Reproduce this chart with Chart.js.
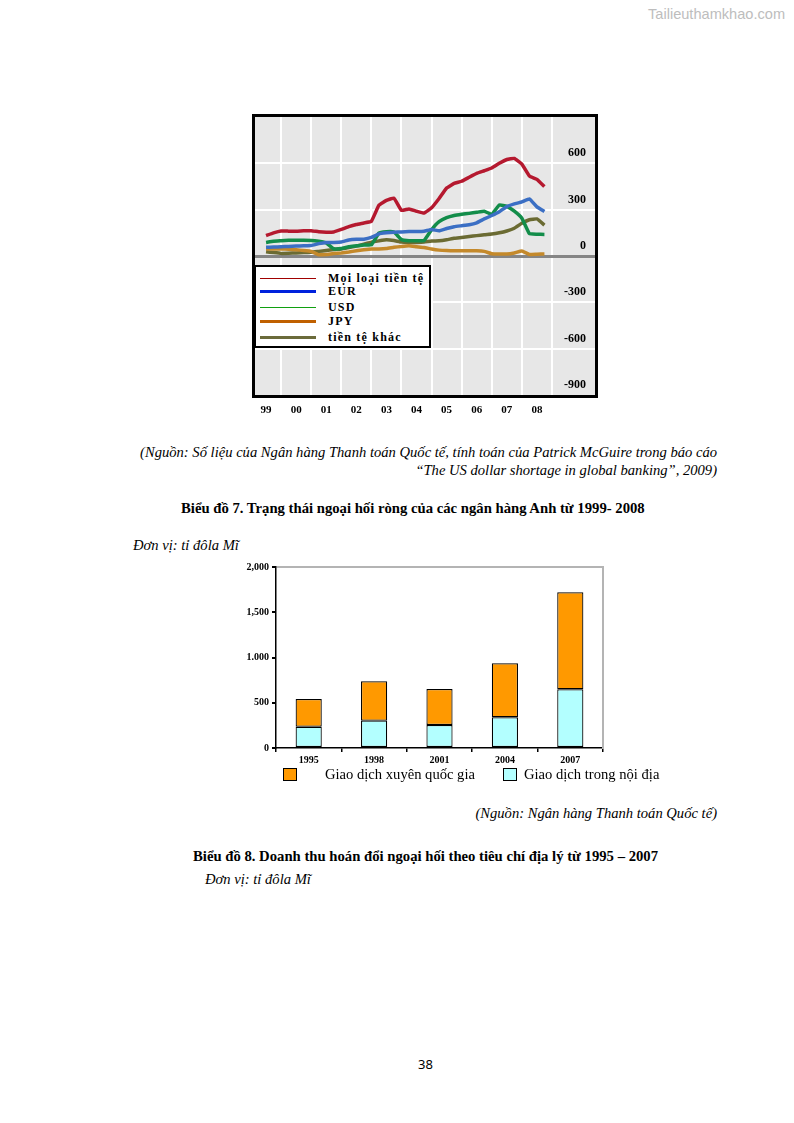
<!DOCTYPE html>
<html lang="vi">
<head>
<meta charset="utf-8">
<script src="https://cdn.jsdelivr.net/npm/chart.js@4.4.1/dist/chart.umd.min.js"></script>
<style>
  html, body { margin: 0; padding: 0; background: #fff; }
  #page { position: relative; width: 794px; height: 1123px; overflow: hidden;
          font-family: "Liberation Serif", "Times New Roman", serif; color: #000; }
  .abs { position: absolute; white-space: nowrap; }
  .it { font-style: italic; font-size: 14.6px; line-height: 18px; }
  .bold { font-weight: bold; font-size: 14.7px; line-height: 18px; }
  #wm { left: 648px; top: 6px; font: 14.6px "Liberation Sans", sans-serif; color: #bdbdbd; }
  #pageNo { left: 418px; top: 1055px; font: 13px "Noto Sans", sans-serif; }
  #fxLegend { left: 254px; top: 265px; width: 173px; height: 79px; background: #fff; border: 2px solid #000; }
  #fxLegend .row { position: absolute; left: 0; height: 14px; width: 173px; }
  #fxLegend .sample { position: absolute; left: 4px; width: 56px; top: 7px; }
  #fxLegend .txt { position: absolute; left: 72px; top: 0; font-weight: bold; font-size: 12px; line-height: 14px; letter-spacing: 1.2px; }
  .box { position: absolute; width: 12px; height: 11px; border: 1px solid #000; }
  .legTxt { position: absolute; font-size: 14.6px; line-height: 18px; }
</style>
</head>
<body>
<div id="page">
  <div class="abs" id="wm">Tailieuthamkhao.com</div>

  <canvas id="fxChart" class="abs" width="370" height="315" style="left:240px;top:110px;"></canvas>
  <div class="abs" id="fxLegend"></div>

  <div class="abs it" style="right:77px;top:443px;">(Nguồn: Số liệu của Ngân hàng Thanh toán Quốc tế, tính toán của Patrick McGuire trong báo cáo</div>
  <div class="abs it" style="right:77px;top:461px;">“The US dollar shortage in global banking”, 2009)</div>
  <div class="abs bold" style="left:181px;top:499px;">Biểu đồ 7. Trạng thái ngoại hối ròng của các ngân hàng Anh từ 1999- 2008</div>
  <div class="abs it" style="left:133px;top:536px;">Đơn vị: tỉ đôla Mĩ</div>

  <canvas id="turnoverChart" class="abs" width="390" height="215" style="left:226px;top:555px;"></canvas>
  <div class="box" style="left:283px;top:768px;background:#ff9900;"></div>
  <div class="legTxt" style="left:325px;top:765px;">Giao dịch xuyên quốc gia</div>
  <div class="box" style="left:503px;top:768px;background:#b3ffff;"></div>
  <div class="legTxt" style="left:524px;top:765px;">Giao dịch trong nội địa</div>

  <div class="abs it" style="right:77px;top:804px;">(Nguồn: Ngân hàng Thanh toán Quốc tế)</div>
  <div class="abs bold" style="left:193px;top:847px;">Biểu đồ 8. Doanh thu hoán đổi ngoại hối theo tiêu chí địa lý từ 1995 – 2007</div>
  <div class="abs it" style="left:205px;top:870px;">Đơn vị: tỉ đôla Mĩ</div>

  <div class="abs" id="pageNo">38</div>
</div>

<script>
// ---- Chart 7: net FX positions of UK banks (quarterly) ----
const quarters = [
  1999.5, 1999.75, 2000, 2000.25, 2000.5, 2000.75, 2001, 2001.25, 2001.5, 2001.75,
  2002, 2002.25, 2002.5, 2002.75, 2003, 2003.25, 2003.5, 2003.75, 2004, 2004.25,
  2004.5, 2004.75, 2005, 2005.25, 2005.5, 2005.75, 2006, 2006.25, 2006.5, 2006.75,
  2007, 2007.25, 2007.5, 2007.75, 2008, 2008.25, 2008.5, 2008.75
];
const allCurrencies = [132, 150, 162, 161, 160, 163, 164, 157, 154, 156,
  172, 190, 204, 214, 225, 328, 360, 375, 295, 305,
  290, 278, 312, 372, 440, 470, 484, 510, 535, 552,
  570, 600, 625, 632, 595, 518, 496, 450];
const eur = [56, 58, 60, 62, 64, 66, 68, 80, 88, 88,
  90, 104, 109, 109, 120, 143, 150, 154, 156, 158,
  158, 160, 172, 163, 178, 190, 196, 202, 215, 240,
  262, 287, 320, 337, 350, 370, 318, 288];
const usd = [88, 96, 99, 102, 102, 102, 101, 95, 85, 47,
  48, 60, 66, 72, 72, 148, 157, 155, 106, 99,
  98, 100, 170, 222, 248, 262, 270, 276, 283, 290,
  270, 330, 322, 290, 245, 145, 141, 140];
const jpy = [45, 45, 45, 44, 40, 36, 30, 8, 10, 16,
  20, 26, 34, 40, 45, 45, 48, 56, 62, 66,
  60, 55, 45, 38, 35, 34, 34, 34, 34, 30,
  15, 13, 13, 20, 32, 10, 12, 13];
const otherCcy = [28, 22, 17, 18, 20, 22, 24, 30, 36, 42,
  46, 55, 64, 76, 90, 98, 105, 100, 90, 88,
  88, 90, 97, 98, 105, 115, 120, 126, 132, 138,
  142, 150, 162, 180, 212, 235, 240, 200];

const seriesNames = ['Mọi loại tiền tệ', 'EUR', 'USD', 'JPY', 'tiền tệ khác'];
const seriesData = [allCurrencies, eur, usd, jpy, otherCcy];
const seriesColors = ['#b5192f', '#3b6fc4', '#138d4a', '#c4892b', '#6b6b33'];
const legendColors = ['#a00000', '#0022dd', '#10a010', '#c06000', '#6b6b3b'];
const legendWidths = [1, 3, 1, 3, 3];

const xTickYears = [1999.5, 2000.5, 2001.5, 2002.5, 2003.5, 2004.5, 2005.5, 2006.5, 2007.5, 2008.5];
const xTickLabels = ['99', '00', '01', '02', '03', '04', '05', '06', '07', '08'];
const yTicks = [-900, -600, -300, 0, 300, 600, 900];
const yTickLabels = ['-900', '-600', '-300', '0', '300', '600', ''];

const boldSerif = size => ({ family: 'Liberation Serif', weight: 'bold', size: size });

const frame = {
  id: 'frame',
  beforeDraw(chart) {
    const { ctx, chartArea: a } = chart;
    ctx.save();
    ctx.fillStyle = '#e7e7e7';
    ctx.fillRect(a.left, a.top, a.width, a.height);
    ctx.restore();
  },
  afterDraw(chart) {
    const { ctx, chartArea: a } = chart;
    ctx.save();
    ctx.strokeStyle = '#000';
    ctx.lineWidth = 3;
    ctx.strokeRect(a.left - 1.5, a.top - 1.5, a.width + 3, a.height + 3);
    ctx.restore();
  }
};

new Chart(document.getElementById('fxChart'), {
  type: 'line',
  data: {
    datasets: seriesData.map((vals, i) => ({
      label: seriesNames[i],
      data: vals.map((v, k) => ({ x: quarters[k], y: v })),
      borderColor: seriesColors[i],
      borderWidth: 3.5,
      pointRadius: 0,
      tension: 0.1,
      fill: false
    }))
  },
  options: {
    responsive: false,
    animation: false,
    devicePixelRatio: 1,
    layout: { padding: { left: 15, top: 7, right: 15, bottom: 5 } },
    plugins: { legend: { display: false }, tooltip: { enabled: false } },
    scales: {
      x: {
        type: 'linear', min: 1999.133, max: 2010.43,
        afterBuildTicks: s => { s.ticks = xTickYears.map(v => ({ value: v })); },
        afterFit: s => { s.height = 25; s.paddingLeft = 0; s.paddingRight = 0; },
        border: { display: false },
        grid: { offset: true, drawTicks: false, color: '#ffffff', lineWidth: 2 },
        ticks: { autoSkip: false, maxRotation: 0, padding: 9, color: '#000', font: boldSerif(11),
                 callback: (v, i) => xTickLabels[i] }
      },
      y: {
        position: 'right', min: -900, max: 900,
        afterBuildTicks: s => { s.ticks = yTicks.map(v => ({ value: v })); },
        afterFit: s => { s.width = 0; s.paddingTop = 0; s.paddingBottom = 0; },
        border: { display: false },
        grid: {
          drawTicks: false,
          color: c => c.tick.value === 0 ? '#858585' : (Math.abs(c.tick.value) === 900 ? 'rgba(0,0,0,0)' : '#ffffff'),
          lineWidth: c => c.tick.value === 0 ? 3 : 2
        },
        ticks: { mirror: true, padding: -9, labelOffset: -10, color: '#000', font: boldSerif(12),
                 callback: (v, i) => yTickLabels[i] }
      }
    }
  },
  plugins: [frame]
});

// HTML legend for chart 7
const fxLegend = document.getElementById('fxLegend');
const legendRowTop = [4, 17, 33, 47, 63];
seriesNames.forEach((name, i) => {
  const row = document.createElement('div');
  row.className = 'row';
  row.style.top = legendRowTop[i] + 'px';
  const line = document.createElement('div');
  line.className = 'sample';
  line.style.borderTop = legendWidths[i] + 'px solid ' + legendColors[i];
  line.style.marginTop = -Math.floor(legendWidths[i] / 2) + 'px';
  const txt = document.createElement('div');
  txt.className = 'txt';
  txt.innerText = name;
  row.appendChild(line);
  row.appendChild(txt);
  fxLegend.appendChild(row);
});

// ---- Chart 8: FX turnover by geography ----
const barYears = ['1995', '1998', '2001', '2004', '2007'];
const crossBorder = [306, 435, 398, 596, 1071];
const domestic = [235, 302, 254, 340, 649];
const barYTicks = [0, 500, 1000, 1500, 2000];
const barYLabels = ['0', '500', '1.000', '1,500', '2,000'];

new Chart(document.getElementById('turnoverChart'), {
  type: 'bar',
  data: {
    labels: barYears,
    datasets: [
      { label: 'Giao dịch trong nội địa', data: domestic, backgroundColor: '#b3ffff' },
      { label: 'Giao dịch xuyên quốc gia', data: crossBorder, backgroundColor: '#ff9900' }
    ].map(d => Object.assign(d, {
      borderColor: '#000', borderWidth: 1.2, borderSkipped: false,
      barPercentage: 0.4, categoryPercentage: 1.0
    }))
  },
  options: {
    responsive: false,
    animation: false,
    devicePixelRatio: 1,
    layout: { padding: { left: 0, top: 12, right: 13, bottom: 4 } },
    plugins: { legend: { display: false }, tooltip: { enabled: false } },
    scales: {
      x: {
        stacked: true,
        afterFit: s => { s.height = 18; },
        border: { color: '#000', width: 1.5 },
        grid: { offset: true, drawOnChartArea: false, tickLength: 4, tickColor: '#000', lineWidth: 1.5 },
        ticks: { padding: 2, color: '#000', font: boldSerif(10) }
      },
      y: {
        stacked: true, min: 0, max: 2000,
        afterBuildTicks: s => { s.ticks = barYTicks.map(v => ({ value: v })); },
        afterFit: s => { s.width = 50; },
        border: { color: '#000', width: 1.5 },
        grid: {
          tickLength: 4, tickColor: '#000', lineWidth: 2,
          color: c => c.tick.value === 2000 ? '#b4b4b4' : 'rgba(0,0,0,0)'
        },
        ticks: { padding: 3, color: '#000', font: boldSerif(10), callback: (v, i) => barYLabels[i] }
      },
      y2: {
        position: 'right',
        afterFit: s => { s.width = 0; },
        border: { color: '#b4b4b4', width: 2 },
        grid: { display: false },
        ticks: { display: false }
      }
    }
  }
});
</script>
</body>
</html>
